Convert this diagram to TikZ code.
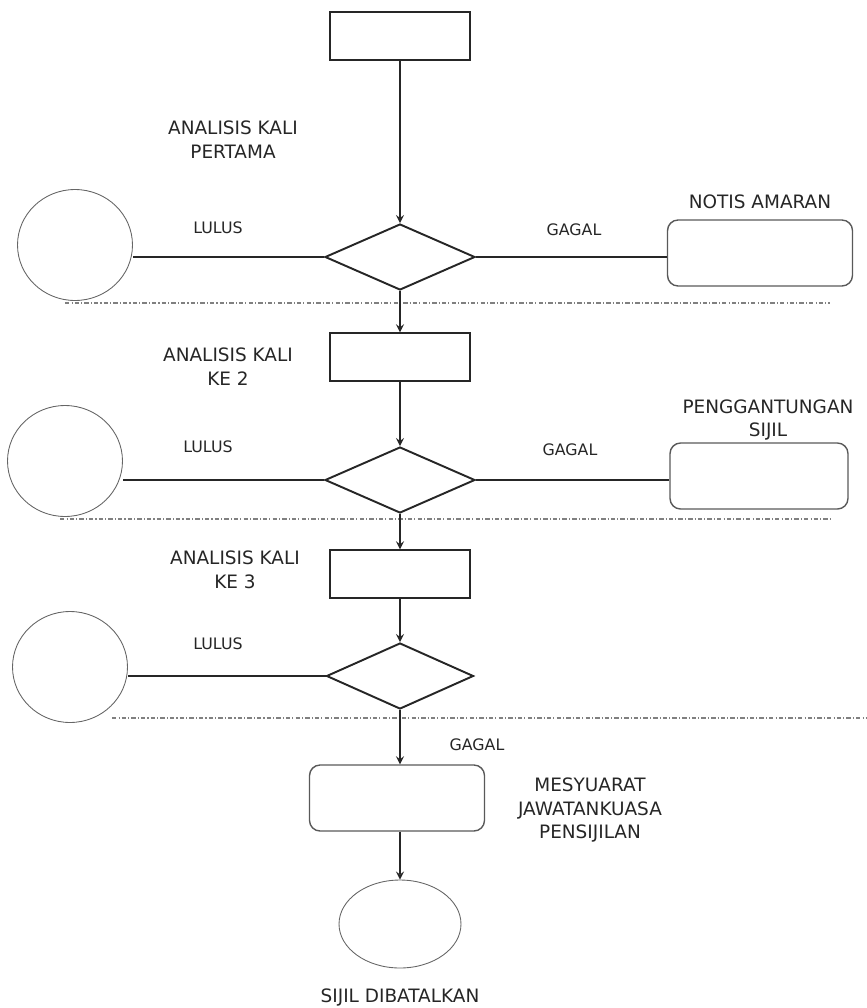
\documentclass[tikz,border=0pt]{standalone}
\usepackage{fontspec}
\setmainfont{DejaVu Sans}
\usetikzlibrary{positioning,shapes.geometric}

\begin{document}
\begin{tikzpicture}[x=0.02cm,y=-0.02cm,
		kotak/.style={draw=black!85,line width=1.1pt,minimum width=2.8cm,minimum height=0.95cm},
		pilihan/.style={diamond,draw=black!85,line width=1.1pt,minimum width=3cm,minimum height=1.32cm,inner sep=0pt},
		bulat/.style={ellipse,draw=black!60,line width=0.5pt,minimum width=2.3cm,minimum height=2.22cm},
		lembut/.style={draw=black!65,line width=0.8pt,rounded corners=6pt,minimum height=1.32cm},
		teks/.style={align=center,font=\fontsize{10.5}{13.5}\selectfont,text=black!85},
		kecil/.style={font=\fontsize{9}{11}\selectfont,text=black!85},
		sambung/.style={draw=black!85,line width=1.1pt},
		anak/.style={-stealth,draw=black!85,line width=1pt},
		sempadan/.style={draw=black!50,line width=0.6pt,dash pattern=on 2.5pt off 1.2pt on 0.6pt off 1.2pt}]
			\useasboundingbox (0,0) rectangle (866,1008);
			% peringkat pertama
			\node[kotak] (mula) at (400,36) {};
			\node[teks] (an1) at (233,140) {ANALISIS KALI\\PERTAMA};
			\node[pilihan] (pil1) at (400,257) {};
			\node[bulat] (lulus1) at (75,245) {};
			\node[lembut,minimum width=3.7cm] (notis1) at (760,253) {};
			\node[teks] (notis1t) at (760,202) {NOTIS AMARAN};
			\node[kecil] (lulus1t) at (218,228) {LULUS};
			\node[kecil] (gagal1t) at (574,230) {GAGAL};
			\draw[anak] (mula.south)--(pil1.north);
			\draw[sambung] (pil1.west)--(pil1.west -| lulus1.east);
			\draw[sambung] (pil1.east)--(pil1.east -| notis1.west);
			\draw[sempadan] (65,303)--(830,303);
			
			% peringkat kedua
			\node[kotak] (kali2) at (400,357) {};
			\node[teks] (an2) at (228,367) {ANALISIS KALI\\KE 2};
			\node[pilihan] (pil2) at (400,480) {};
			\node[bulat] (lulus2) at (65,461) {};
			\node[lembut,minimum width=3.56cm] (notis2) at (759,476) {};
			\node[teks] (notis2t) at (768,420) {PENGGANTUNGAN\\SIJIL};
			\node[kecil] (lulus2t) at (208,447) {LULUS};
			\node[kecil] (gagal2t) at (570,450) {GAGAL};
			\draw[anak] (pil1.south)--(kali2.north);
			\draw[anak] (kali2.south)--(pil2.north);
			\draw[sambung] (pil2.west)--(pil2.west -| lulus2.east);
			\draw[sambung] (pil2.east)--(pil2.east -| notis2.west);
			\draw[sempadan] (60,519)--(830,519);
			
			% peringkat ketiga
			\node[kotak] (kali3) at (400,574) {};
			\node[teks] (an3) at (235,570) {ANALISIS KALI\\KE 3};
			\node[pilihan,minimum width=2.94cm] (pil3) at (400,676) {};
			\node[bulat] (lulus3) at (70,667) {};
			\node[kecil] (lulus3t) at (218,644) {LULUS};
			\draw[anak] (pil2.south)--(kali3.north);
			\draw[anak] (kali3.south)--(pil3.north);
			\draw[sambung] (pil3.west)--(pil3.west -| lulus3.east);
			\draw[sempadan] (112,718)--(866,718);
			
			% mesyuarat
			\node[lembut,minimum width=3.5cm] (mesy) at (397,798) {};
			\node[kecil] (gagal3t) at (477,745) {GAGAL};
			\node[teks] (mesyt) at (590,810) {MESYUARAT\\JAWATANKUASA\\PENSIJILAN};
			\node[bulat,minimum width=2.44cm,minimum height=1.76cm] (batal) at (400,924) {};
			\node[teks] (batalt) at (400,997) {SIJIL DIBATALKAN};
			\draw[anak] (pil3.south)--(pil3.south |- mesy.north);
			\draw[anak] (pil3.south |- mesy.south)--(batal.north);
		\end{tikzpicture}
\end{document}
